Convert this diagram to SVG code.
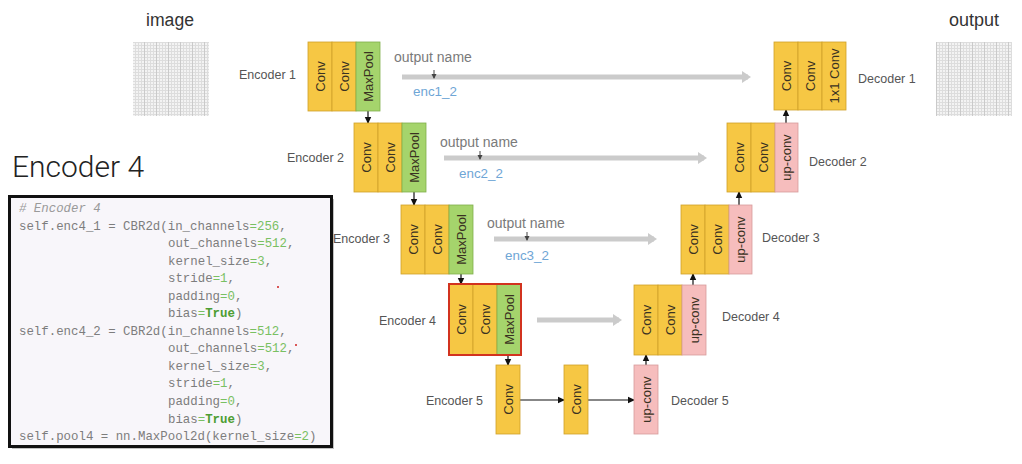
<svg xmlns="http://www.w3.org/2000/svg" width="1022" height="464" viewBox="0 0 1022 464">
<style>
.lbl{font-family:"Liberation Sans",Arial,sans-serif;font-size:12.5px;fill:#555}
.ttl{font-family:"Liberation Sans",Arial,sans-serif;fill:#333}
.on{font-family:"Liberation Sans",Arial,sans-serif;font-size:14px;fill:#7a7a7a}
.en{font-family:"Liberation Sans",Arial,sans-serif;font-size:13.4px;fill:#6fa6d6}
.conv{fill:#f6c744;stroke:#cfa12a;stroke-width:0.8}
.pool{fill:#a5d46c;stroke:#7fae4c;stroke-width:0.8}
.up{fill:#f6bdbd;stroke:#d79c9c;stroke-width:0.8}
.bt{font-family:"Liberation Sans",Arial,sans-serif;font-size:13px;fill:#3a3222;text-anchor:middle;dominant-baseline:central}
.ar{stroke:#111;stroke-width:1.2;fill:none;marker-end:url(#ah)}
.sk{stroke:#cbcbcb;stroke-width:5;fill:none;marker-end:url(#gh)}
.tk{stroke:#444;stroke-width:1;fill:none;marker-end:url(#th)}
.code{font-family:"Liberation Mono","Courier New",monospace;font-size:12.4px;fill:#7d7d7d}
.g{fill:#79c062}
.t{fill:#4e9e33;font-weight:bold}
.cm{font-style:italic;fill:#9a9a9a}
</style>
<defs>
<marker id="ah" markerWidth="8" markerHeight="8" refX="6" refY="4" orient="auto" markerUnits="userSpaceOnUse"><path d="M0,0.8 L7,4 L0,7.2 z" fill="#111"/></marker>
<marker id="gh" markerWidth="12" markerHeight="14" refX="6" refY="7" orient="auto" markerUnits="userSpaceOnUse"><path d="M0,1 L9,7 L0,13 z" fill="#cbcbcb"/></marker>
<marker id="th" markerWidth="6" markerHeight="6" refX="4" refY="3" orient="auto" markerUnits="userSpaceOnUse"><path d="M0,0.5 L5,3 L0,5.5 z" fill="#444"/></marker>
<pattern id="grid" x="0" y="0" width="3" height="3" patternUnits="userSpaceOnUse"><rect width="3" height="3" fill="#f3f3f3"/><path d="M0,0.5 H3 M0.5,0 V3" stroke="#dddddd" stroke-width="1"/></pattern>
<pattern id="gridd" x="0" y="0" width="12" height="12" patternUnits="userSpaceOnUse"><path d="M0.5,0 V12" stroke="#cacaca" stroke-width="1"/></pattern>
</defs>
<rect width="1022" height="464" fill="#ffffff"/>

<g id="image">
<text class="ttl" x="170" y="26" font-size="17.6" text-anchor="middle">image</text>
<rect x="133" y="42" width="76" height="74" fill="url(#grid)"/>
<rect x="133" y="42" width="76" height="74" fill="url(#gridd)"/>
</g>
<g id="output">
<text class="ttl" x="974" y="26" font-size="18" text-anchor="middle">output</text>
<rect x="936" y="42" width="76" height="74" fill="url(#grid)"/>
<rect x="936" y="42" width="76" height="74" fill="url(#gridd)"/>
</g>

<g id="title"><text x="12" y="177" font-family="Roboto,'Liberation Sans',Arial,sans-serif" font-weight="300" font-size="30" fill="#222">Encoder 4</text></g>

<g id="codebox">
<rect x="12" y="199" width="322" height="250" fill="#9a9a9a" opacity="0.6"/>
<rect x="9.5" y="196.5" width="322" height="250" fill="#f8f6fa" stroke="#111" stroke-width="3"/>
<text class="code" xml:space="preserve">
<tspan x="19" y="212" class="cm"># Encoder 4</tspan>
<tspan x="19" y="229.5">self.enc4_1 = CBR2d(in_channels<tspan class="g">=256</tspan>,</tspan>
<tspan x="168" y="247.1">out_channels<tspan class="g">=512</tspan>,</tspan>
<tspan x="168" y="264.6">kernel_size<tspan class="g">=3</tspan>,</tspan>
<tspan x="168" y="282.2">stride<tspan class="g">=1</tspan>,</tspan>
<tspan x="168" y="299.7">padding<tspan class="g">=0</tspan>,</tspan>
<tspan x="168" y="317.2">bias<tspan class="g">=</tspan><tspan class="t">True</tspan>)</tspan>
<tspan x="19" y="334.8">self.enc4_2 = CBR2d(in_channels<tspan class="g">=512</tspan>,</tspan>
<tspan x="168" y="352.3">out_channels<tspan class="g">=512</tspan>,</tspan>
<tspan x="168" y="369.9">kernel_size<tspan class="g">=3</tspan>,</tspan>
<tspan x="168" y="387.4">stride<tspan class="g">=1</tspan>,</tspan>
<tspan x="168" y="404.9">padding<tspan class="g">=0</tspan>,</tspan>
<tspan x="168" y="422.5">bias<tspan class="g">=</tspan><tspan class="t">True</tspan>)</tspan>
<tspan x="19" y="440">self.pool4 = nn.MaxPool2d(kernel_size<tspan class="g">=2</tspan>)</tspan>
</text>
<circle cx="278" cy="287" r="1" fill="#d02020"/>
<circle cx="296" cy="345" r="1" fill="#d02020"/>
</g>

<g id="connectors">
<path class="sk" d="M402,77 H748"/>
<path class="sk" d="M444,158 H704"/>
<path class="sk" d="M494,239 H654"/>
<path class="sk" d="M537,320 H619"/>
<path class="tk" d="M434,70 V78"/>
<path class="tk" d="M480,151 V159"/>
<path class="tk" d="M527,232 V240"/>
<path class="ar" d="M368,110 V123"/>
<path class="ar" d="M414,192 V205"/>
<path class="ar" d="M461,274 V284"/>
<path class="ar" d="M508,355 V365"/>
<path class="ar" d="M520,400 H564"/>
<path class="ar" d="M588,400 H634"/>
<path class="ar" d="M646,365 V355"/>
<path class="ar" d="M693,285 V274"/>
<path class="ar" d="M739,205 V192"/>
<path class="ar" d="M786,123 V110"/>
</g>

<g id="skiplabels">
<text class="on" x="394" y="62">output name</text>
<text class="en" x="413" y="96">enc1_2</text>
<text class="on" x="440" y="147">output name</text>
<text class="en" x="459" y="178">enc2_2</text>
<text class="on" x="487" y="228">output name</text>
<text class="en" x="505" y="260">enc3_2</text>
</g>

<g id="encoder1">
<rect class="conv" x="308" y="42" width="24" height="69"/><rect class="conv" x="332" y="42" width="24" height="69"/><rect class="pool" x="356" y="42" width="24" height="69"/>
<text class="bt" transform="rotate(-90 320 76.5)" x="320" y="76.5">Conv</text>
<text class="bt" transform="rotate(-90 344 76.5)" x="344" y="76.5">Conv</text>
<text class="bt" transform="rotate(-90 368 76.5)" x="368" y="76.5">MaxPool</text>
<text class="lbl" x="239" y="79">Encoder 1</text>
</g>
<g id="encoder2">
<rect class="conv" x="354" y="123" width="24" height="69"/><rect class="conv" x="378" y="123" width="24" height="69"/><rect class="pool" x="402" y="123" width="24" height="69"/>
<text class="bt" transform="rotate(-90 366 157.5)" x="366" y="157.5">Conv</text>
<text class="bt" transform="rotate(-90 390 157.5)" x="390" y="157.5">Conv</text>
<text class="bt" transform="rotate(-90 414 157.5)" x="414" y="157.5">MaxPool</text>
<text class="lbl" x="287" y="162">Encoder 2</text>
</g>
<g id="encoder3">
<rect class="conv" x="401" y="205" width="24" height="69"/><rect class="conv" x="425" y="205" width="24" height="69"/><rect class="pool" x="449" y="205" width="24" height="69"/>
<text class="bt" transform="rotate(-90 413 239.5)" x="413" y="239.5">Conv</text>
<text class="bt" transform="rotate(-90 437 239.5)" x="437" y="239.5">Conv</text>
<text class="bt" transform="rotate(-90 461 239.5)" x="461" y="239.5">MaxPool</text>
<text class="lbl" x="333" y="243">Encoder 3</text>
</g>
<g id="encoder4">
<rect class="conv" x="449" y="284" width="24" height="71"/><rect class="conv" x="473" y="284" width="24" height="71"/><rect class="pool" x="497" y="284" width="24" height="71"/>
<rect x="449" y="284" width="72" height="71" fill="none" stroke="#d2331f" stroke-width="2"/>
<text class="bt" transform="rotate(-90 461 319.5)" x="461" y="319.5">Conv</text>
<text class="bt" transform="rotate(-90 485 319.5)" x="485" y="319.5">Conv</text>
<text class="bt" transform="rotate(-90 509 319.5)" x="509" y="319.5">MaxPool</text>
<text class="lbl" x="379" y="325">Encoder 4</text>
</g>
<g id="encoder5">
<rect class="conv" x="496" y="365" width="24" height="69"/>
<text class="bt" transform="rotate(-90 508 399.5)" x="508" y="399.5">Conv</text>
<text class="lbl" x="426" y="405">Encoder 5</text>
</g>
<g id="bottleneck">
<rect class="conv" x="564" y="365" width="24" height="69"/>
<text class="bt" transform="rotate(-90 576 399.5)" x="576" y="399.5">Conv</text>
</g>
<g id="decoder5">
<rect class="up" x="634" y="365" width="24" height="69"/>
<text class="bt" transform="rotate(-90 646 399.5)" x="646" y="399.5">up-conv</text>
<text class="lbl" x="671" y="405">Decoder 5</text>
</g>
<g id="decoder4">
<rect class="conv" x="634" y="285" width="24" height="70"/><rect class="conv" x="658" y="285" width="24" height="70"/><rect class="up" x="682" y="285" width="24" height="70"/>
<text class="bt" transform="rotate(-90 646 320)" x="646" y="320">Conv</text>
<text class="bt" transform="rotate(-90 670 320)" x="670" y="320">Conv</text>
<text class="bt" transform="rotate(-90 694 320)" x="694" y="320">up-conv</text>
<text class="lbl" x="722" y="321">Decoder 4</text>
</g>
<g id="decoder3">
<rect class="conv" x="681" y="205" width="24" height="69"/><rect class="conv" x="705" y="205" width="24" height="69"/><rect class="up" x="729" y="205" width="23" height="69"/>
<text class="bt" transform="rotate(-90 693 239.5)" x="693" y="239.5">Conv</text>
<text class="bt" transform="rotate(-90 717 239.5)" x="717" y="239.5">Conv</text>
<text class="bt" transform="rotate(-90 740.5 239.5)" x="740.5" y="239.5">up-conv</text>
<text class="lbl" x="762" y="242">Decoder 3</text>
</g>
<g id="decoder2">
<rect class="conv" x="727" y="123" width="24" height="69"/><rect class="conv" x="751" y="123" width="24" height="69"/><rect class="up" x="775" y="123" width="23" height="69"/>
<text class="bt" transform="rotate(-90 739 157.5)" x="739" y="157.5">Conv</text>
<text class="bt" transform="rotate(-90 763 157.5)" x="763" y="157.5">Conv</text>
<text class="bt" transform="rotate(-90 786.5 157.5)" x="786.5" y="157.5">up-conv</text>
<text class="lbl" x="809" y="166">Decoder 2</text>
</g>
<g id="decoder1">
<rect class="conv" x="774" y="42" width="24" height="68"/><rect class="conv" x="798" y="42" width="24" height="68"/><rect class="conv" x="822" y="42" width="24" height="68"/>
<text class="bt" transform="rotate(-90 786 76)" x="786" y="76">Conv</text>
<text class="bt" transform="rotate(-90 810 76)" x="810" y="76">Conv</text>
<text class="bt" transform="rotate(-90 834 76)" x="834" y="76">1x1 Conv</text>
<text class="lbl" x="858" y="83">Decoder 1</text>
</g>
</svg>
